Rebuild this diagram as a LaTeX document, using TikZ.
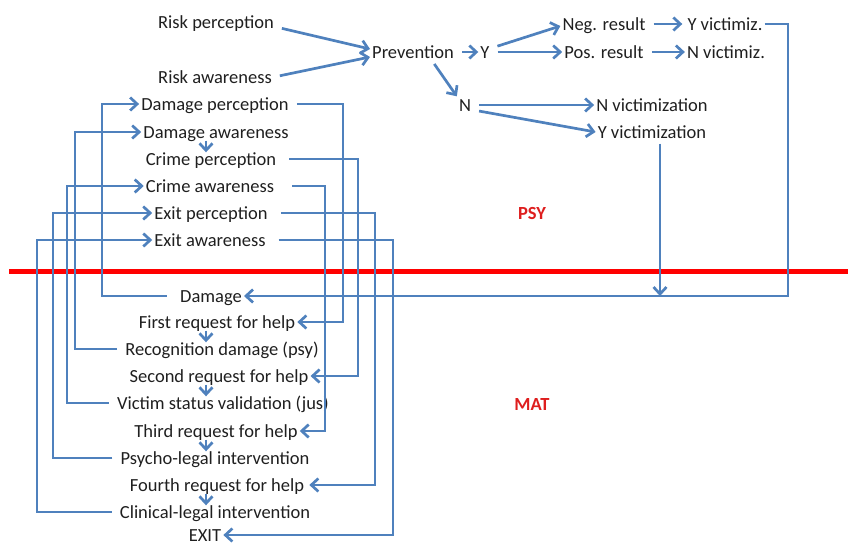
\documentclass[tikz,border=0pt]{standalone}
\usepackage{fontspec}
\setmainfont{Carlito}
\usetikzlibrary{arrows.meta,positioning,calc}
\definecolor{flowblue}{RGB}{79,129,189}
\definecolor{cutred}{RGB}{255,0,0}
\definecolor{tagred}{RGB}{222,30,30}
\tikzset{
  item/.style={inner xsep=2pt, inner ysep=0pt, text height=15pt, text depth=2pt,
               font=\fontsize{18.5}{22}\selectfont, text=black!88},
  tag/.style={item, font=\fontsize{18.5}{22}\selectfont\bfseries, text=tagred},
  arrow/.style={-{Straight Barb[length=7pt,width=13pt]}, line width=2.7pt, flowblue},
  link/.style={arrow, shorten <=6pt},
  farlink/.style={arrow, shorten <=11pt},
  divider/.style={line width=5pt, cutred},
}
\begin{document}
\begin{tikzpicture}[x=1pt, y=-1pt]
\useasboundingbox (0,0) rectangle (848,543);

% upper part
\node[item] (rperc) at (216,22) {Risk perception};
\node[item] (rawar) at (215,77) {Risk awareness};
\node[item] (prev) at (413,52) {Prevention};
\node[item] (yy) at (485,52) {Y};
\node[item] (neg) at (604,24) {Neg. result};
\node[item] (pos) at (604,52) {Pos. result};
\node[item] (yvz) at (725,24) {Y victimiz.};
\node[item] (nvz) at (726,52) {N victimiz.};
\node[item] (nn) at (465,105) {N};
\node[item] (nvict) at (652,105) {N victimization};
\node[item] (yvict) at (652,132) {Y victimization};

\node[item] (dperc) at (215,104) {Damage perception};
\node[item] (dawar) at (216,132) {Damage awareness};
\node[item] (cperc) at (211,159) {Crime perception};
\node[item] (cawar) at (210,186) {Crime awareness};
\node[item] (eperc) at (211,213) {Exit perception};
\node[item] (eawar) at (210,240) {Exit awareness};

\node[tag] (psy) at (532,213) {PSY};
\node[tag] (mat) at (532,404) {MAT};

% lower part
\node[item] (dmg) at (211,296) {Damage};
\node[item] (req1) at (217,322) {First request for help};
\node[item] (recog) at (222,349) {Recognition damage (psy)};
\node[item] (req2) at (219,376) {Second request for help};
\node[item] (valid) at (223,403) {Victim status validation (jus)};
\node[item] (req3) at (216,431) {Third request for help};
\node[item] (psyleg) at (215,458) {Psycho-legal intervention};
\node[item] (req4) at (217,485) {Fourth request for help};
\node[item] (clinleg) at (215,512) {Clinical-legal intervention};
\node[item] (exitn) at (205,535) {EXIT};

\coordinate (lrail1) at (102,0);
\coordinate (lrail2) at (75,0);
\coordinate (lrail3) at (67,0);
\coordinate (lrail4) at (53,0);
\coordinate (lrail5) at (37,0);
\coordinate (rrail1) at (343,0);
\coordinate (rrail2) at (358,0);
\coordinate (rrail3) at (325,0);
\coordinate (rrail4) at (375,0);
\coordinate (rrail5) at (393,0);
\coordinate (rrail6) at (788,0);
\coordinate (xcol) at (206,0);

\draw[divider] (9,271) -- (848,271);

\draw[link] ([yshift=-5pt]rperc.east) -- ([yshift=3pt]prev.west);
\draw[link] (rawar.east) -- ([yshift=-5pt]prev.west);
\draw[link] (prev.east) -- (yy.west);
\draw[link] ([yshift=4pt]yy.east) -- ([yshift=-2pt]neg.west);
\draw[link] (yy.east) -- (pos.west);
\draw[link] (neg.east) -- ([xshift=-3pt]yvz.west);
\draw[link] (pos.east) -- (nvz.west);
\draw[arrow, shorten <=4pt] ([xshift=19pt]prev.south) -- (nn.north west);
\draw[link] (nn.east) -- (nvict.west);
\draw[link] ([yshift=-5pt]nn.east) -- (yvict.west);
\draw[arrow] (yvz.east) -| (rrail6 |- dmg.east) -- (dmg.east);
\draw[arrow, shorten <=3pt] ([xshift=8pt]yvict.south) -- ([xshift=8pt]yvict.south |- dmg.east);

\draw[farlink] (dmg.west) -| (lrail1 |- dperc.west) -- (dperc.west);
\draw[link] (recog.west) -| (lrail2 |- dawar.west) -- (dawar.west);
\draw[link] (valid.west) -| (lrail3 |- cawar.west) -- (cawar.west);
\draw[link] (psyleg.west) -| (lrail4 |- eperc.west) -- (eperc.west);
\draw[link] (clinleg.west) -| (lrail5 |- eawar.west) -- (eawar.west);

\draw[link] (dperc.east) -| (rrail1 |- req1.east) -- (req1.east);
\draw[farlink] (cperc.east) -| (rrail2 |- req2.east) -- (req2.east);
\draw[arrow, shorten <=16pt] (cawar.east) -| (rrail3 |- req3.east) -- (req3.east);
\draw[farlink] (eperc.east) -| (rrail4 |- req4.east) -- ([xshift=3pt]req4.east);
\draw[farlink] (eawar.east) -| (rrail5 |- exitn.east) -- (exitn.east);

\draw[arrow, shorten >=-2pt] (dawar.south -| xcol) -- (cperc.north -| xcol);
\draw[arrow, shorten >=-2pt] (req1.south -| xcol) -- (recog.north -| xcol);
\draw[arrow, shorten >=-2pt] (req2.south -| xcol) -- (valid.north -| xcol);
\draw[arrow, shorten >=-2pt] (req3.south -| xcol) -- (psyleg.north -| xcol);
\draw[arrow, shorten >=-2pt] (req4.south -| xcol) -- (clinleg.north -| xcol);
\end{tikzpicture}
\end{document}
